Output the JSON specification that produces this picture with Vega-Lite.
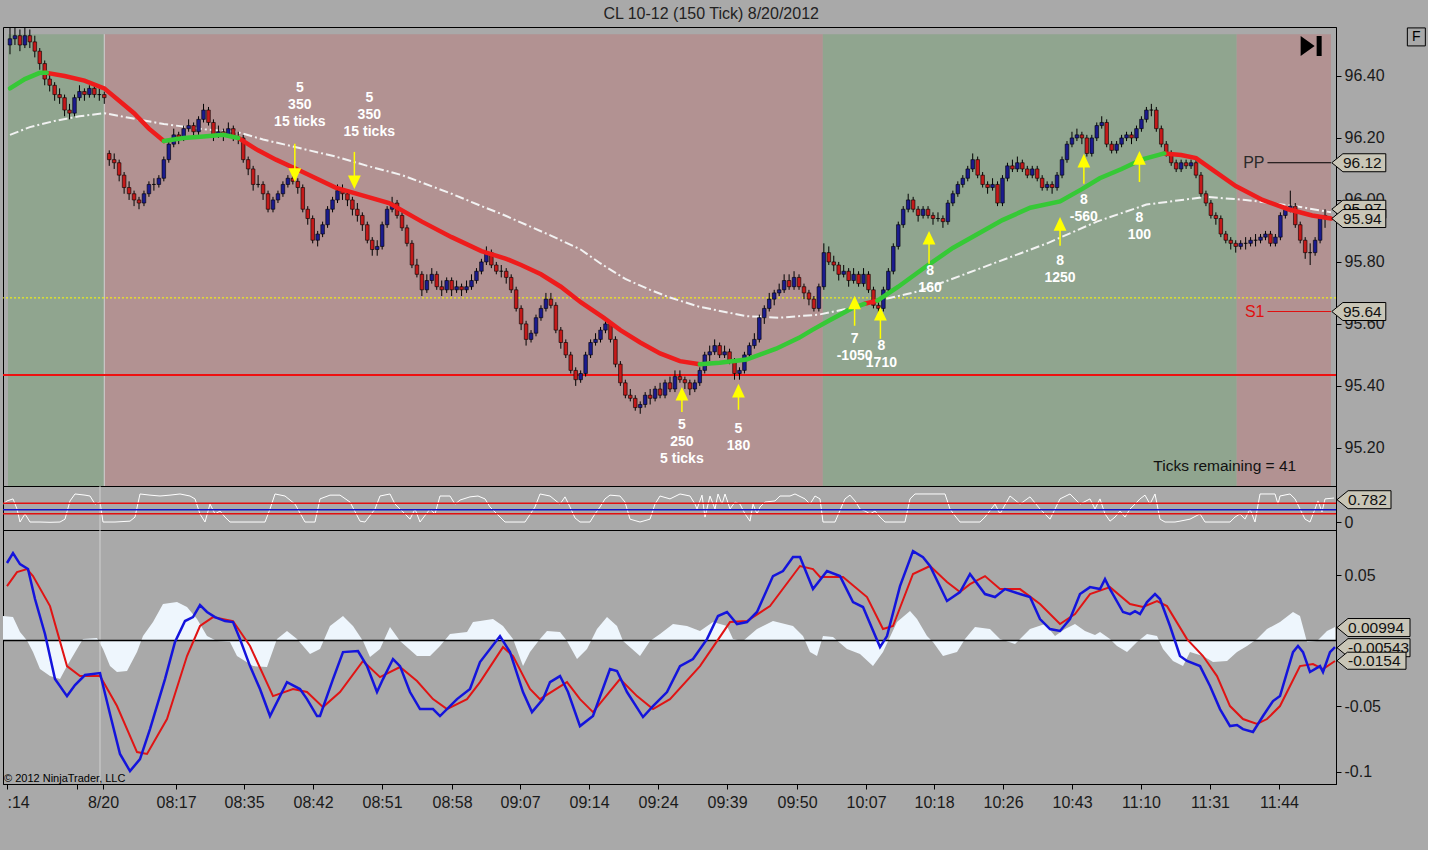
{
  "$schema": "https://vega.github.io/schema/vega-lite/v6.json",
  "background": "#a9a9a9",
  "padding": {"left": 0, "top": 6, "right": 0, "bottom": 62},
  "title": {"text": "CL 10-12 (150 Tick)  8/20/2012", "font": "Liberation Sans", "fontSize": 16, "fontWeight": "normal", "color": "#222", "anchor": "middle", "offset": 3, "dx": -3},
  "spacing": 0,
  "bounds": "flush",
  "config": {
    "view": {"stroke": "#000", "strokeWidth": 1},
    "axis": {"labelFont": "Liberation Sans", "labelFontSize": 16, "labelColor": "#1a1a1a", "domainColor": "#000", "tickColor": "#000", "tickSize": 5, "labelPadding": 3, "grid": false},
    "text": {"font": "Liberation Sans"}
  },
  "datasets": {
    "regions": [
      {"a": 3, "b": 100, "s": "long"},
      {"a": 100, "b": 824, "s": "short"},
      {"a": 824, "b": 1241, "s": "long"},
      {"a": 1241, "b": 1336, "s": "short"}
    ],
    "session": [{"t": 100}],
    "levels": [{"k": "support", "p": 95.435}, {"k": "zone", "p": 95.684}],
    "bars": [
      {"t":5,"o":96.50,"h":96.56,"l":96.47,"c":96.52},{"t":10,"o":96.52,"h":96.56,"l":96.50,"c":96.53},{"t":15,"o":96.53,"h":96.55,"l":96.48,"c":96.50},{"t":20,"o":96.50,"h":96.56,"l":96.49,"c":96.53},{"t":25,"o":96.53,"h":96.55,"l":96.49,"c":96.51},
      {"t":30,"o":96.51,"h":96.53,"l":96.46,"c":96.48},{"t":35,"o":96.48,"h":96.49,"l":96.42,"c":96.44},{"t":40,"o":96.44,"h":96.45,"l":96.37,"c":96.39},{"t":45,"o":96.39,"h":96.41,"l":96.35,"c":96.37},{"t":50,"o":96.37,"h":96.38,"l":96.32,"c":96.34},
      {"t":55,"o":96.34,"h":96.36,"l":96.31,"c":96.33},{"t":60,"o":96.33,"h":96.34,"l":96.27,"c":96.29},{"t":65,"o":96.29,"h":96.31,"l":96.26,"c":96.28},{"t":70,"o":96.28,"h":96.34,"l":96.27,"c":96.33},{"t":75,"o":96.33,"h":96.37,"l":96.32,"c":96.35},
      {"t":80,"o":96.35,"h":96.36,"l":96.32,"c":96.34},{"t":85,"o":96.34,"h":96.37,"l":96.33,"c":96.36},{"t":90,"o":96.36,"h":96.37,"l":96.33,"c":96.34},{"t":95,"o":96.34,"h":96.36,"l":96.32,"c":96.34},{"t":100,"o":96.34,"h":96.35,"l":96.31,"c":96.33},
      {"t":105,"o":96.15,"h":96.16,"l":96.11,"c":96.13},{"t":110,"o":96.13,"h":96.15,"l":96.10,"c":96.12},{"t":115,"o":96.12,"h":96.13,"l":96.06,"c":96.08},{"t":120,"o":96.08,"h":96.09,"l":96.02,"c":96.04},{"t":125,"o":96.04,"h":96.06,"l":96.00,"c":96.02},
      {"t":130,"o":96.02,"h":96.03,"l":95.98,"c":96.00},{"t":135,"o":96.00,"h":96.01,"l":95.97,"c":95.99},{"t":140,"o":95.99,"h":96.03,"l":95.98,"c":96.02},{"t":145,"o":96.02,"h":96.06,"l":96.01,"c":96.05},{"t":150,"o":96.05,"h":96.07,"l":96.03,"c":96.05},
      {"t":155,"o":96.05,"h":96.08,"l":96.04,"c":96.07},{"t":160,"o":96.07,"h":96.14,"l":96.06,"c":96.13},{"t":165,"o":96.13,"h":96.19,"l":96.12,"c":96.18},{"t":170,"o":96.18,"h":96.23,"l":96.17,"c":96.21},{"t":175,"o":96.21,"h":96.22,"l":96.18,"c":96.20},
      {"t":180,"o":96.20,"h":96.24,"l":96.19,"c":96.23},{"t":185,"o":96.23,"h":96.26,"l":96.22,"c":96.24},{"t":190,"o":96.24,"h":96.25,"l":96.20,"c":96.22},{"t":195,"o":96.22,"h":96.27,"l":96.21,"c":96.26},{"t":200,"o":96.26,"h":96.31,"l":96.25,"c":96.29},
      {"t":205,"o":96.29,"h":96.30,"l":96.24,"c":96.25},{"t":210,"o":96.25,"h":96.26,"l":96.19,"c":96.21},{"t":215,"o":96.21,"h":96.24,"l":96.20,"c":96.22},{"t":220,"o":96.22,"h":96.23,"l":96.19,"c":96.21},{"t":225,"o":96.21,"h":96.25,"l":96.20,"c":96.23},
      {"t":230,"o":96.23,"h":96.24,"l":96.19,"c":96.20},{"t":235,"o":96.20,"h":96.22,"l":96.18,"c":96.20},{"t":240,"o":96.20,"h":96.21,"l":96.12,"c":96.13},{"t":245,"o":96.13,"h":96.14,"l":96.08,"c":96.10},{"t":250,"o":96.10,"h":96.11,"l":96.03,"c":96.05},
      {"t":255,"o":96.05,"h":96.08,"l":96.04,"c":96.05},{"t":260,"o":96.05,"h":96.06,"l":96.00,"c":96.02},{"t":265,"o":96.02,"h":96.03,"l":95.96,"c":95.97},{"t":270,"o":95.97,"h":96.01,"l":95.96,"c":96.00},{"t":275,"o":96.00,"h":96.03,"l":95.99,"c":96.02},
      {"t":280,"o":96.02,"h":96.06,"l":96.01,"c":96.05},{"t":285,"o":96.05,"h":96.08,"l":96.04,"c":96.07},{"t":290,"o":96.07,"h":96.09,"l":96.05,"c":96.06},{"t":295,"o":96.06,"h":96.07,"l":96.02,"c":96.04},{"t":300,"o":96.04,"h":96.05,"l":95.96,"c":95.97},
      {"t":305,"o":95.97,"h":95.98,"l":95.92,"c":95.94},{"t":310,"o":95.94,"h":95.95,"l":95.86,"c":95.87},{"t":315,"o":95.87,"h":95.90,"l":95.85,"c":95.89},{"t":320,"o":95.89,"h":95.93,"l":95.88,"c":95.92},{"t":325,"o":95.92,"h":95.98,"l":95.91,"c":95.97},
      {"t":330,"o":95.97,"h":96.01,"l":95.96,"c":96.00},{"t":335,"o":96.00,"h":96.05,"l":95.99,"c":96.03},{"t":340,"o":96.03,"h":96.05,"l":96.00,"c":96.02},{"t":345,"o":96.02,"h":96.03,"l":95.98,"c":96.00},{"t":350,"o":96.00,"h":96.01,"l":95.95,"c":95.97},
      {"t":355,"o":95.97,"h":95.99,"l":95.93,"c":95.95},{"t":360,"o":95.95,"h":95.96,"l":95.90,"c":95.92},{"t":365,"o":95.92,"h":95.93,"l":95.86,"c":95.87},{"t":370,"o":95.87,"h":95.88,"l":95.82,"c":95.84},{"t":375,"o":95.84,"h":95.87,"l":95.82,"c":95.85},
      {"t":380,"o":95.85,"h":95.93,"l":95.84,"c":95.92},{"t":385,"o":95.92,"h":95.98,"l":95.91,"c":95.97},{"t":390,"o":95.97,"h":96.01,"l":95.96,"c":95.99},{"t":395,"o":95.99,"h":96.00,"l":95.94,"c":95.95},{"t":400,"o":95.95,"h":95.96,"l":95.90,"c":95.91},
      {"t":405,"o":95.91,"h":95.92,"l":95.85,"c":95.86},{"t":410,"o":95.86,"h":95.87,"l":95.78,"c":95.79},{"t":415,"o":95.79,"h":95.81,"l":95.75,"c":95.76},{"t":420,"o":95.76,"h":95.77,"l":95.69,"c":95.71},{"t":425,"o":95.71,"h":95.76,"l":95.70,"c":95.74},
      {"t":430,"o":95.74,"h":95.78,"l":95.73,"c":95.76},{"t":435,"o":95.76,"h":95.77,"l":95.71,"c":95.72},{"t":440,"o":95.72,"h":95.74,"l":95.69,"c":95.71},{"t":445,"o":95.71,"h":95.75,"l":95.70,"c":95.74},{"t":450,"o":95.74,"h":95.75,"l":95.69,"c":95.71},
      {"t":455,"o":95.71,"h":95.74,"l":95.70,"c":95.72},{"t":460,"o":95.72,"h":95.73,"l":95.69,"c":95.71},{"t":465,"o":95.71,"h":95.74,"l":95.70,"c":95.72},{"t":470,"o":95.72,"h":95.76,"l":95.71,"c":95.74},{"t":475,"o":95.74,"h":95.78,"l":95.73,"c":95.77},
      {"t":480,"o":95.77,"h":95.81,"l":95.76,"c":95.80},{"t":485,"o":95.80,"h":95.85,"l":95.79,"c":95.83},{"t":490,"o":95.83,"h":95.84,"l":95.78,"c":95.79},{"t":495,"o":95.79,"h":95.80,"l":95.76,"c":95.77},{"t":500,"o":95.77,"h":95.79,"l":95.75,"c":95.77},
      {"t":505,"o":95.77,"h":95.78,"l":95.73,"c":95.75},{"t":510,"o":95.75,"h":95.76,"l":95.70,"c":95.71},{"t":515,"o":95.71,"h":95.72,"l":95.64,"c":95.65},{"t":520,"o":95.65,"h":95.66,"l":95.58,"c":95.60},{"t":525,"o":95.60,"h":95.61,"l":95.53,"c":95.55},
      {"t":530,"o":95.55,"h":95.58,"l":95.54,"c":95.57},{"t":535,"o":95.57,"h":95.63,"l":95.56,"c":95.62},{"t":540,"o":95.62,"h":95.66,"l":95.61,"c":95.65},{"t":545,"o":95.65,"h":95.70,"l":95.64,"c":95.68},{"t":550,"o":95.68,"h":95.70,"l":95.65,"c":95.66},
      {"t":555,"o":95.66,"h":95.67,"l":95.57,"c":95.58},{"t":560,"o":95.58,"h":95.59,"l":95.52,"c":95.54},{"t":565,"o":95.54,"h":95.55,"l":95.49,"c":95.50},{"t":570,"o":95.50,"h":95.51,"l":95.44,"c":95.45},{"t":575,"o":95.45,"h":95.46,"l":95.40,"c":95.42},
      {"t":580,"o":95.42,"h":95.45,"l":95.41,"c":95.44},{"t":585,"o":95.44,"h":95.51,"l":95.43,"c":95.50},{"t":590,"o":95.50,"h":95.55,"l":95.49,"c":95.54},{"t":595,"o":95.54,"h":95.57,"l":95.53,"c":95.55},{"t":600,"o":95.55,"h":95.59,"l":95.54,"c":95.58},
      {"t":605,"o":95.58,"h":95.62,"l":95.57,"c":95.60},{"t":610,"o":95.60,"h":95.61,"l":95.54,"c":95.55},{"t":615,"o":95.55,"h":95.56,"l":95.46,"c":95.47},{"t":620,"o":95.47,"h":95.48,"l":95.40,"c":95.41},{"t":625,"o":95.41,"h":95.42,"l":95.36,"c":95.37},
      {"t":630,"o":95.37,"h":95.39,"l":95.35,"c":95.36},{"t":635,"o":95.36,"h":95.37,"l":95.32,"c":95.33},{"t":640,"o":95.33,"h":95.35,"l":95.31,"c":95.34},{"t":645,"o":95.34,"h":95.38,"l":95.33,"c":95.37},{"t":650,"o":95.37,"h":95.39,"l":95.34,"c":95.36},
      {"t":655,"o":95.36,"h":95.40,"l":95.35,"c":95.39},{"t":660,"o":95.39,"h":95.41,"l":95.36,"c":95.37},{"t":665,"o":95.37,"h":95.42,"l":95.36,"c":95.41},{"t":670,"o":95.41,"h":95.43,"l":95.38,"c":95.39},{"t":675,"o":95.39,"h":95.45,"l":95.38,"c":95.43},
      {"t":680,"o":95.43,"h":95.45,"l":95.41,"c":95.42},{"t":685,"o":95.42,"h":95.43,"l":95.39,"c":95.41},{"t":690,"o":95.41,"h":95.42,"l":95.37,"c":95.39},{"t":695,"o":95.39,"h":95.42,"l":95.38,"c":95.41},{"t":700,"o":95.41,"h":95.46,"l":95.40,"c":95.45},
      {"t":705,"o":95.45,"h":95.51,"l":95.44,"c":95.50},{"t":710,"o":95.50,"h":95.53,"l":95.48,"c":95.51},{"t":715,"o":95.51,"h":95.55,"l":95.50,"c":95.53},{"t":720,"o":95.53,"h":95.54,"l":95.49,"c":95.50},{"t":725,"o":95.50,"h":95.53,"l":95.49,"c":95.51},
      {"t":730,"o":95.51,"h":95.52,"l":95.47,"c":95.48},{"t":735,"o":95.48,"h":95.49,"l":95.42,"c":95.44},{"t":740,"o":95.44,"h":95.46,"l":95.42,"c":95.45},{"t":745,"o":95.45,"h":95.51,"l":95.44,"c":95.50},{"t":750,"o":95.50,"h":95.54,"l":95.49,"c":95.53},
      {"t":755,"o":95.53,"h":95.57,"l":95.52,"c":95.55},{"t":760,"o":95.55,"h":95.63,"l":95.54,"c":95.62},{"t":765,"o":95.62,"h":95.66,"l":95.60,"c":95.65},{"t":770,"o":95.65,"h":95.70,"l":95.64,"c":95.68},{"t":775,"o":95.68,"h":95.71,"l":95.66,"c":95.70},
      {"t":780,"o":95.70,"h":95.73,"l":95.69,"c":95.71},{"t":785,"o":95.71,"h":95.76,"l":95.70,"c":95.74},{"t":790,"o":95.74,"h":95.76,"l":95.71,"c":95.72},{"t":795,"o":95.72,"h":95.77,"l":95.71,"c":95.75},{"t":800,"o":95.75,"h":95.76,"l":95.71,"c":95.72},
      {"t":805,"o":95.72,"h":95.73,"l":95.68,"c":95.70},{"t":810,"o":95.70,"h":95.71,"l":95.66,"c":95.68},{"t":815,"o":95.68,"h":95.69,"l":95.64,"c":95.65},{"t":820,"o":95.65,"h":95.73,"l":95.64,"c":95.72},{"t":825,"o":95.72,"h":95.86,"l":95.71,"c":95.83},
      {"t":830,"o":95.83,"h":95.85,"l":95.79,"c":95.80},{"t":835,"o":95.80,"h":95.82,"l":95.77,"c":95.79},{"t":840,"o":95.79,"h":95.80,"l":95.74,"c":95.76},{"t":845,"o":95.76,"h":95.79,"l":95.75,"c":95.77},{"t":850,"o":95.77,"h":95.78,"l":95.72,"c":95.74},
      {"t":855,"o":95.74,"h":95.78,"l":95.73,"c":95.76},{"t":860,"o":95.76,"h":95.77,"l":95.72,"c":95.73},{"t":865,"o":95.73,"h":95.78,"l":95.72,"c":95.76},{"t":870,"o":95.76,"h":95.77,"l":95.70,"c":95.71},{"t":875,"o":95.71,"h":95.72,"l":95.65,"c":95.66},
      {"t":880,"o":95.66,"h":95.68,"l":95.63,"c":95.65},{"t":885,"o":95.65,"h":95.72,"l":95.64,"c":95.71},{"t":890,"o":95.71,"h":95.78,"l":95.70,"c":95.77},{"t":895,"o":95.77,"h":95.86,"l":95.76,"c":95.85},{"t":900,"o":95.85,"h":95.93,"l":95.84,"c":95.92},
      {"t":905,"o":95.92,"h":95.98,"l":95.91,"c":95.97},{"t":910,"o":95.97,"h":96.02,"l":95.96,"c":96.00},{"t":915,"o":96.00,"h":96.01,"l":95.96,"c":95.97},{"t":920,"o":95.97,"h":95.98,"l":95.93,"c":95.95},{"t":925,"o":95.95,"h":95.98,"l":95.94,"c":95.97},
      {"t":930,"o":95.97,"h":95.98,"l":95.94,"c":95.95},{"t":935,"o":95.95,"h":95.96,"l":95.92,"c":95.94},{"t":940,"o":95.94,"h":95.96,"l":95.93,"c":95.94},{"t":945,"o":95.94,"h":95.95,"l":95.91,"c":95.93},{"t":950,"o":95.93,"h":96.00,"l":95.92,"c":95.99},
      {"t":955,"o":95.99,"h":96.03,"l":95.98,"c":96.02},{"t":960,"o":96.02,"h":96.06,"l":96.01,"c":96.05},{"t":965,"o":96.05,"h":96.08,"l":96.04,"c":96.07},{"t":970,"o":96.07,"h":96.11,"l":96.06,"c":96.10},{"t":975,"o":96.10,"h":96.15,"l":96.09,"c":96.13},
      {"t":980,"o":96.13,"h":96.14,"l":96.07,"c":96.08},{"t":985,"o":96.08,"h":96.09,"l":96.04,"c":96.05},{"t":990,"o":96.05,"h":96.06,"l":96.02,"c":96.04},{"t":995,"o":96.04,"h":96.07,"l":96.03,"c":96.05},{"t":1000,"o":96.05,"h":96.06,"l":95.98,"c":95.99},
      {"t":1005,"o":95.99,"h":96.08,"l":95.98,"c":96.07},{"t":1010,"o":96.07,"h":96.12,"l":96.06,"c":96.11},{"t":1015,"o":96.11,"h":96.13,"l":96.09,"c":96.10},{"t":1020,"o":96.10,"h":96.14,"l":96.09,"c":96.12},{"t":1025,"o":96.12,"h":96.13,"l":96.09,"c":96.10},
      {"t":1030,"o":96.10,"h":96.11,"l":96.07,"c":96.08},{"t":1035,"o":96.08,"h":96.11,"l":96.07,"c":96.10},{"t":1040,"o":96.10,"h":96.11,"l":96.06,"c":96.07},{"t":1045,"o":96.07,"h":96.08,"l":96.03,"c":96.04},{"t":1050,"o":96.04,"h":96.06,"l":96.03,"c":96.05},
      {"t":1055,"o":96.05,"h":96.06,"l":96.02,"c":96.04},{"t":1060,"o":96.04,"h":96.09,"l":96.03,"c":96.08},{"t":1065,"o":96.08,"h":96.14,"l":96.07,"c":96.13},{"t":1070,"o":96.13,"h":96.19,"l":96.12,"c":96.18},{"t":1075,"o":96.18,"h":96.22,"l":96.17,"c":96.20},
      {"t":1080,"o":96.20,"h":96.23,"l":96.19,"c":96.21},{"t":1085,"o":96.21,"h":96.22,"l":96.18,"c":96.20},{"t":1090,"o":96.20,"h":96.21,"l":96.14,"c":96.15},{"t":1095,"o":96.15,"h":96.21,"l":96.14,"c":96.20},{"t":1100,"o":96.20,"h":96.25,"l":96.19,"c":96.24},
      {"t":1105,"o":96.24,"h":96.27,"l":96.23,"c":96.25},{"t":1110,"o":96.25,"h":96.26,"l":96.17,"c":96.18},{"t":1115,"o":96.18,"h":96.19,"l":96.15,"c":96.16},{"t":1120,"o":96.16,"h":96.19,"l":96.15,"c":96.18},{"t":1125,"o":96.18,"h":96.21,"l":96.17,"c":96.20},
      {"t":1130,"o":96.20,"h":96.22,"l":96.19,"c":96.21},{"t":1135,"o":96.21,"h":96.22,"l":96.18,"c":96.20},{"t":1140,"o":96.20,"h":96.24,"l":96.19,"c":96.23},{"t":1145,"o":96.23,"h":96.27,"l":96.22,"c":96.26},{"t":1150,"o":96.26,"h":96.30,"l":96.25,"c":96.29},
      {"t":1155,"o":96.29,"h":96.31,"l":96.27,"c":96.29},{"t":1160,"o":96.29,"h":96.30,"l":96.22,"c":96.23},{"t":1165,"o":96.23,"h":96.24,"l":96.17,"c":96.18},{"t":1170,"o":96.18,"h":96.19,"l":96.14,"c":96.15},{"t":1175,"o":96.15,"h":96.16,"l":96.11,"c":96.12},
      {"t":1180,"o":96.12,"h":96.13,"l":96.09,"c":96.10},{"t":1185,"o":96.10,"h":96.13,"l":96.09,"c":96.12},{"t":1190,"o":96.12,"h":96.13,"l":96.10,"c":96.11},{"t":1195,"o":96.11,"h":96.13,"l":96.10,"c":96.12},{"t":1200,"o":96.12,"h":96.13,"l":96.07,"c":96.08},
      {"t":1205,"o":96.08,"h":96.09,"l":96.01,"c":96.02},{"t":1210,"o":96.02,"h":96.03,"l":95.98,"c":95.99},{"t":1215,"o":95.99,"h":96.00,"l":95.94,"c":95.95},{"t":1220,"o":95.95,"h":95.96,"l":95.92,"c":95.94},{"t":1225,"o":95.94,"h":95.95,"l":95.88,"c":95.89},
      {"t":1230,"o":95.89,"h":95.90,"l":95.86,"c":95.87},{"t":1235,"o":95.87,"h":95.88,"l":95.84,"c":95.86},{"t":1240,"o":95.86,"h":95.87,"l":95.83,"c":95.85},{"t":1245,"o":95.85,"h":95.87,"l":95.84,"c":95.86},{"t":1250,"o":95.86,"h":95.88,"l":95.84,"c":95.86},
      {"t":1255,"o":95.86,"h":95.88,"l":95.85,"c":95.87},{"t":1260,"o":95.87,"h":95.89,"l":95.85,"c":95.87},{"t":1265,"o":95.87,"h":95.89,"l":95.86,"c":95.88},{"t":1270,"o":95.88,"h":95.90,"l":95.87,"c":95.89},{"t":1275,"o":95.89,"h":95.90,"l":95.85,"c":95.86},
      {"t":1280,"o":95.86,"h":95.89,"l":95.85,"c":95.88},{"t":1285,"o":95.88,"h":95.96,"l":95.87,"c":95.95},{"t":1290,"o":95.95,"h":95.98,"l":95.94,"c":95.97},{"t":1295,"o":95.97,"h":96.03,"l":95.96,"c":95.98},{"t":1300,"o":95.98,"h":95.99,"l":95.91,"c":95.92},
      {"t":1305,"o":95.92,"h":95.93,"l":95.86,"c":95.87},{"t":1310,"o":95.87,"h":95.88,"l":95.81,"c":95.83},{"t":1315,"o":95.83,"h":95.86,"l":95.79,"c":95.83},{"t":1320,"o":95.83,"h":95.88,"l":95.82,"c":95.87},{"t":1325,"o":95.87,"h":95.95,"l":95.86,"c":95.94},
      {"t":1330,"o":95.94,"h":95.97,"l":95.91,"c":95.95}
    ],
    "slowma": [
      {"t":5,"v":96.21},{"t":25,"v":96.235},{"t":50,"v":96.255},{"t":75,"v":96.27},{"t":100,"v":96.28},{"t":125,"v":96.265},{"t":160,"v":96.245},{"t":200,"v":96.228},{"t":233,"v":96.22},{"t":260,"v":96.195},{"t":300,"v":96.165},{"t":333,"v":96.14},{"t":365,"v":96.11},{"t":400,"v":96.08},{"t":450,"v":96.02},{"t":480,"v":95.98},{"t":500,"v":95.955},{"t":525,"v":95.92},{"t":550,"v":95.885},{"t":580,"v":95.84},{"t":600,"v":95.795},{"t":625,"v":95.745},{"t":650,"v":95.71},{"t":670,"v":95.685},{"t":700,"v":95.655},{"t":747,"v":95.625},{"t":780,"v":95.62},{"t":820,"v":95.63},{"t":850,"v":95.65},{"t":880,"v":95.675},{"t":920,"v":95.705},{"t":950,"v":95.74},{"t":1000,"v":95.80},{"t":1050,"v":95.86},{"t":1100,"v":95.93},{"t":1150,"v":95.985},{"t":1210,"v":96.01},{"t":1250,"v":96.0},{"t":1300,"v":95.98},{"t":1336,"v":95.96}
    ],
    "maRed": [
      {"t":42,"v":96.41,"s":"r1"},{"t":60,"v":96.40,"s":"r1"},{"t":80,"v":96.385,"s":"r1"},{"t":100,"v":96.36,"s":"r1"},{"t":115,"v":96.32,"s":"r1"},{"t":130,"v":96.28,"s":"r1"},{"t":145,"v":96.23,"s":"r1"},{"t":160,"v":96.19,"s":"r1"},
      {"t":235,"v":96.20,"s":"r2"},{"t":255,"v":96.16,"s":"r2"},{"t":273,"v":96.13,"s":"r2"},{"t":300,"v":96.09,"s":"r2"},{"t":333,"v":96.04,"s":"r2"},{"t":360,"v":96.015,"s":"r2"},{"t":387,"v":95.99,"s":"r2"},{"t":420,"v":95.93,"s":"r2"},{"t":450,"v":95.88,"s":"r2"},{"t":480,"v":95.835,"s":"r2"},{"t":505,"v":95.81,"s":"r2"},{"t":520,"v":95.79,"s":"r2"},{"t":540,"v":95.76,"s":"r2"},{"t":560,"v":95.72,"s":"r2"},{"t":580,"v":95.67,"s":"r2"},{"t":603,"v":95.62,"s":"r2"},{"t":620,"v":95.58,"s":"r2"},{"t":640,"v":95.54,"s":"r2"},{"t":660,"v":95.505,"s":"r2"},{"t":680,"v":95.48,"s":"r2"},{"t":700,"v":95.47,"s":"r2"},
      {"t":866,"v":95.665,"s":"r3"},{"t":879,"v":95.675,"s":"r3"},
      {"t":1168,"v":96.15,"s":"r4"},{"t":1185,"v":96.145,"s":"r4"},{"t":1200,"v":96.135,"s":"r4"},{"t":1220,"v":96.09,"s":"r4"},{"t":1240,"v":96.045,"s":"r4"},{"t":1267,"v":96.0,"s":"r4"},{"t":1293,"v":95.97,"s":"r4"},{"t":1317,"v":95.95,"s":"r4"},{"t":1336,"v":95.94,"s":"r4"}
    ],
    "maGreen": [
      {"t":5,"v":96.36,"s":"g1"},{"t":20,"v":96.39,"s":"g1"},{"t":35,"v":96.41,"s":"g1"},{"t":42,"v":96.41,"s":"g1"},
      {"t":160,"v":96.19,"s":"g2"},{"t":180,"v":96.20,"s":"g2"},{"t":200,"v":96.205,"s":"g2"},{"t":220,"v":96.21,"s":"g2"},{"t":235,"v":96.20,"s":"g2"},
      {"t":700,"v":95.47,"s":"g3"},{"t":720,"v":95.475,"s":"g3"},{"t":747,"v":95.485,"s":"g3"},{"t":777,"v":95.52,"s":"g3"},{"t":800,"v":95.555,"s":"g3"},{"t":813,"v":95.58,"s":"g3"},{"t":830,"v":95.61,"s":"g3"},{"t":853,"v":95.65,"s":"g3"},{"t":866,"v":95.665,"s":"g3"},
      {"t":879,"v":95.675,"s":"g4"},{"t":900,"v":95.72,"s":"g4"},{"t":930,"v":95.79,"s":"g4"},{"t":955,"v":95.845,"s":"g4"},{"t":980,"v":95.89,"s":"g4"},{"t":1005,"v":95.935,"s":"g4"},{"t":1033,"v":95.975,"s":"g4"},{"t":1063,"v":95.995,"s":"g4"},{"t":1085,"v":96.035,"s":"g4"},{"t":1103,"v":96.07,"s":"g4"},{"t":1125,"v":96.10,"s":"g4"},{"t":1145,"v":96.13,"s":"g4"},{"t":1168,"v":96.15,"s":"g4"}
    ],
    "pivots": [
      {"lab": "PP", "p": 96.12, "t1": 1272, "t2": 1336},
      {"lab": "S1", "p": 95.64, "t1": 1272, "t2": 1336}
    ],
    "arrows": [
      {"t":292,"tail":96.181,"tip":96.07,"head":96.084,"dir":"down"},
      {"t":352,"tail":96.155,"tip":96.047,"head":96.061,"dir":"down"},
      {"t":682,"tail":95.316,"tip":95.385,"head":95.371,"dir":"up"},
      {"t":739,"tail":95.323,"tip":95.394,"head":95.381,"dir":"up"},
      {"t":856,"tail":95.594,"tip":95.678,"head":95.665,"dir":"up"},
      {"t":882,"tail":95.552,"tip":95.643,"head":95.629,"dir":"up"},
      {"t":931,"tail":95.794,"tip":95.888,"head":95.874,"dir":"up"},
      {"t":1063,"tail":95.852,"tip":95.933,"head":95.919,"dir":"up"},
      {"t":1087,"tail":96.052,"tip":96.136,"head":96.123,"dir":"up"},
      {"t":1143,"tail":96.058,"tip":96.146,"head":96.132,"dir":"up"}
    ],
    "notes": [
      {"t":297,"p":96.384,"txt":"5\n350\n15 ticks"},
      {"t":367,"p":96.352,"txt":"5\n350\n15 ticks"},
      {"t":682,"p":95.297,"txt":"5\n250\n5 ticks"},
      {"t":739,"p":95.284,"txt":"5\n180"},
      {"t":856,"p":95.574,"txt":"7\n-1050"},
      {"t":883,"p":95.552,"txt":"8\n1710"},
      {"t":932,"p":95.794,"txt":"8\n160"},
      {"t":1063,"p":95.826,"txt":"8\n1250"},
      {"t":1087,"p":96.023,"txt":"8\n-560"},
      {"t":1143,"p":95.965,"txt":"8\n100"}
    ],
    "misc": [{"t": 1157, "p": 95.142, "txt": "Ticks remaining = 41"}],
    "icons": [{"kind": "end", "t": 1316, "p": 96.497}, {"kind": "F", "t": 1422, "p": 96.526}],
    "priceTags": [
      {"p": 96.12, "lab": "96.12", "order": 1},
      {"p": 95.97, "lab": "95.97", "order": 1},
      {"p": 95.64, "lab": "95.64", "order": 1},
      {"p": 95.94, "lab": "95.94", "order": 2}
    ],
    "osc": [
      {"t":3,"v":0.63},{"t":7,"v":0.74},{"t":13,"v":0.81},{"t":17,"v":0.46},{"t":20,"v":0.01},{"t":25,"v":0.29},{"t":30,"v":0.01},{"t":40,"v":0.01},{"t":50,"v":0},{"t":60,"v":0.01},{"t":65,"v":0.11},{"t":70,"v":0.74},{"t":75,"v":0.98},{"t":85,"v":0.94},{"t":90,"v":0.91},{"t":95,"v":0.63},{"t":100,"v":0.70},{"t":103,"v":0.01},{"t":115,"v":0.01},{"t":130,"v":0.04},{"t":135,"v":0.18},{"t":140,"v":0.98},{"t":150,"v":0.94},{"t":160,"v":0.91},{"t":170,"v":0.94},{"t":180,"v":0.98},{"t":190,"v":0.91},{"t":195,"v":0.81},{"t":200,"v":0.29},{"t":205,"v":0.01},{"t":210,"v":0.63},{"t":215,"v":0.29},{"t":220,"v":0.39},{"t":225,"v":0.18},{"t":230,"v":0.01},{"t":245,"v":0.01},{"t":265,"v":0.01},{"t":270,"v":0.46},{"t":275,"v":0.98},{"t":285,"v":0.91},{"t":295,"v":0.63},{"t":305,"v":0.01},{"t":315,"v":0.01},{"t":320,"v":0.81},{"t":330,"v":0.94},{"t":340,"v":0.94},{"t":350,"v":0.70},{"t":360,"v":0.04},{"t":365,"v":0.01},{"t":375,"v":0.46},{"t":380,"v":0.91},{"t":390,"v":0.98},{"t":395,"v":0.63},{"t":405,"v":0.29},{"t":410,"v":0.11},{"t":415,"v":0.46},{"t":420,"v":0.01},{"t":430,"v":0.46},{"t":435,"v":0.29},{"t":440,"v":0.91},{"t":450,"v":0.91},{"t":455,"v":0.63},{"t":460,"v":0.77},{"t":470,"v":0.88},{"t":478,"v":0.91},{"t":485,"v":0.81},{"t":490,"v":0.53},{"t":505,"v":0.01},{"t":525,"v":0.01},{"t":535,"v":0.53},{"t":540,"v":0.98},{"t":550,"v":0.91},{"t":560,"v":0.63},{"t":565,"v":0.88},{"t":570,"v":0.53},{"t":575,"v":0.15},{"t":580,"v":0.01},{"t":590,"v":0.01},{"t":595,"v":0.29},{"t":600,"v":0.53},{"t":605,"v":0.81},{"t":610,"v":0.94},{"t":620,"v":0.91},{"t":625,"v":0.70},{"t":630,"v":0.11},{"t":640,"v":0.01},{"t":650,"v":0.11},{"t":655,"v":0.63},{"t":660,"v":0.91},{"t":670,"v":0.81},{"t":680,"v":0.98},{"t":690,"v":0.91},{"t":695,"v":0.63},{"t":697,"v":0.46},{"t":702,"v":0.94},{"t":705,"v":0.18},{"t":710,"v":0.91},{"t":715,"v":0.46},{"t":718,"v":0.98},{"t":722,"v":0.63},{"t":725,"v":0.98},{"t":730,"v":0.46},{"t":735,"v":0.70},{"t":740,"v":0.63},{"t":745,"v":0.29},{"t":750,"v":0.04},{"t":753,"v":0.63},{"t":757,"v":0.29},{"t":760,"v":0.53},{"t":765,"v":0.70},{"t":775,"v":0.74},{"t":780,"v":0.91},{"t":790,"v":0.91},{"t":795,"v":0.98},{"t":805,"v":0.81},{"t":810,"v":0.63},{"t":815,"v":0.91},{"t":820,"v":0.81},{"t":823,"v":0.01},{"t":835,"v":0.01},{"t":845,"v":0.81},{"t":850,"v":0.94},{"t":855,"v":0.74},{"t":860,"v":0.46},{"t":865,"v":0.39},{"t":870,"v":0.29},{"t":875,"v":0.39},{"t":880,"v":0.18},{"t":885,"v":0.01},{"t":905,"v":0.01},{"t":910,"v":0.81},{"t":915,"v":0.98},{"t":945,"v":0.98},{"t":950,"v":0.46},{"t":955,"v":0.22},{"t":960,"v":0.01},{"t":980,"v":0.01},{"t":985,"v":0.18},{"t":995,"v":0.63},{"t":1000,"v":0.29},{"t":1010,"v":0.91},{"t":1020,"v":0.63},{"t":1030,"v":0.88},{"t":1040,"v":0.46},{"t":1050,"v":0.11},{"t":1060,"v":0.81},{"t":1070,"v":0.98},{"t":1080,"v":0.63},{"t":1090,"v":0.81},{"t":1095,"v":0.46},{"t":1100,"v":0.81},{"t":1105,"v":0.29},{"t":1110,"v":0.04},{"t":1115,"v":0.18},{"t":1120,"v":0.39},{"t":1125,"v":0.18},{"t":1130,"v":0.46},{"t":1135,"v":0.63},{"t":1140,"v":0.81},{"t":1145,"v":0.94},{"t":1150,"v":0.63},{"t":1155,"v":0.98},{"t":1160,"v":0.11},{"t":1165,"v":0.01},{"t":1175,"v":0.01},{"t":1180,"v":0.04},{"t":1190,"v":0.11},{"t":1200,"v":0.29},{"t":1205,"v":0.01},{"t":1230,"v":0.01},{"t":1235,"v":0.18},{"t":1240,"v":0.29},{"t":1245,"v":0.11},{"t":1250,"v":0.46},{"t":1255,"v":0.01},{"t":1260,"v":0.98},{"t":1275,"v":0.98},{"t":1278,"v":0.63},{"t":1280,"v":0.91},{"t":1290,"v":0.98},{"t":1295,"v":0.81},{"t":1305,"v":0.11},{"t":1310,"v":0.01},{"t":1315,"v":0.46},{"t":1318,"v":0.74},{"t":1322,"v":0.36},{"t":1325,"v":0.81},{"t":1334,"v":0.84}
    ],
    "oscLevels": [{"k": "red", "v": 0.657}, {"k": "red", "v": 0.30}, {"k": "blue", "v": 0.436}],
    "oscTag": [{"v": 0.782, "lab": "0.782"}],
    "hist": [
      {"t":3,"v":0.0187},{"t":13,"v":0.0179},{"t":20,"v":0.0065},{"t":27,"v":0},{"t":33,"v":-0.0088},{"t":40,"v":-0.0218},{"t":50,"v":-0.0271},{"t":60,"v":-0.0294},{"t":67,"v":-0.0195},{"t":77,"v":-0.0065},{"t":83,"v":0.0011},{"t":97,"v":0.0019},{"t":103,"v":-0.0065},{"t":110,"v":-0.0195},{"t":117,"v":-0.024},{"t":127,"v":-0.0233},{"t":137,"v":-0.0088},{"t":143,"v":0.0034},{"t":153,"v":0.0141},{"t":163,"v":0.0279},{"t":177,"v":0.0294},{"t":187,"v":0.0256},{"t":197,"v":0.0164},{"t":207,"v":0.0034},{"t":217,"v":-0.0004},{"t":230,"v":-0.0011},{"t":237,"v":-0.0118},{"t":253,"v":-0.0195},{"t":267,"v":-0.0202},{"t":277,"v":0.0011},{"t":287,"v":0.0073},{"t":297,"v":0.0011},{"t":310,"v":-0.0103},{"t":320,"v":-0.0065},{"t":330,"v":0.0111},{"t":343,"v":0.0187},{"t":353,"v":0.0111},{"t":363,"v":-0.0004},{"t":370,"v":-0.0126},{"t":380,"v":-0.0065},{"t":390,"v":0.0103},{"t":400,"v":-0.0004},{"t":417,"v":-0.0118},{"t":430,"v":-0.0118},{"t":440,"v":-0.0042},{"t":450,"v":0.005},{"t":467,"v":0.0065},{"t":473,"v":0.0141},{"t":480,"v":0.0149},{"t":493,"v":0.0164},{"t":503,"v":0.0111},{"t":513,"v":0.0011},{"t":523,"v":-0.0195},{"t":530,"v":-0.0088},{"t":540,"v":0.0011},{"t":547,"v":0.0073},{"t":560,"v":0.0065},{"t":567,"v":-0.0004},{"t":577,"v":-0.0141},{"t":587,"v":-0.0065},{"t":597,"v":0.0088},{"t":607,"v":0.0179},{"t":617,"v":0.0111},{"t":623,"v":-0.0004},{"t":640,"v":-0.0118},{"t":650,"v":-0.0004},{"t":660,"v":0.005},{"t":673,"v":0.0126},{"t":687,"v":0.0111},{"t":700,"v":0.0073},{"t":713,"v":0.0141},{"t":727,"v":0.0111},{"t":733,"v":0.0011},{"t":743,"v":-0.0004},{"t":757,"v":0.0088},{"t":773,"v":0.0149},{"t":793,"v":0.0111},{"t":803,"v":0.0034},{"t":810,"v":-0.0088},{"t":817,"v":-0.0118},{"t":823,"v":0.0034},{"t":833,"v":0.0027},{"t":847,"v":-0.0065},{"t":860,"v":-0.0103},{"t":873,"v":-0.0195},{"t":883,"v":-0.0088},{"t":897,"v":0.0141},{"t":910,"v":0.0225},{"t":917,"v":0.0164},{"t":927,"v":0.0034},{"t":933,"v":-0.0011},{"t":943,"v":-0.0118},{"t":957,"v":-0.0088},{"t":965,"v":0.0011},{"t":975,"v":0.0103},{"t":990,"v":0.0088},{"t":1000,"v":0.0011},{"t":1015,"v":-0.0027},{"t":1030,"v":0.0088},{"t":1045,"v":0.0126},{"t":1055,"v":0.0034},{"t":1065,"v":0.0088},{"t":1075,"v":0.0126},{"t":1085,"v":0.0073},{"t":1095,"v":0.0042},{"t":1100,"v":0.0065},{"t":1110,"v":0.0011},{"t":1117,"v":-0.0042},{"t":1127,"v":-0.0088},{"t":1137,"v":-0.0011},{"t":1147,"v":0.005},{"t":1157,"v":0.0034},{"t":1163,"v":-0.0065},{"t":1173,"v":-0.0156},{"t":1183,"v":-0.0195},{"t":1190,"v":-0.0088},{"t":1203,"v":-0.0118},{"t":1213,"v":-0.0164},{"t":1227,"v":-0.0156},{"t":1237,"v":-0.0088},{"t":1247,"v":-0.0042},{"t":1257,"v":0.0011},{"t":1267,"v":0.0088},{"t":1280,"v":0.0141},{"t":1293,"v":0.0218},{"t":1300,"v":0.0187},{"t":1307,"v":-0.0011},{"t":1317,"v":-0.0004},{"t":1327,"v":0.0073},{"t":1335,"v":0.0103}
    ],
    "macdRed": [
      {"t":7,"v":0.0416},{"t":17,"v":0.0523},{"t":27,"v":0.0546},{"t":33,"v":0.0492},{"t":50,"v":0.0263},{"t":67,"v":-0.0195},{"t":80,"v":-0.0271},{"t":100,"v":-0.0271},{"t":117,"v":-0.05},{"t":137,"v":-0.0851},{"t":147,"v":-0.0866},{"t":167,"v":-0.0599},{"t":187,"v":-0.0118},{"t":200,"v":0.0111},{"t":213,"v":0.0179},{"t":233,"v":0.0149},{"t":250,"v":-0.0042},{"t":273,"v":-0.0424},{"t":293,"v":-0.037},{"t":307,"v":-0.0393},{"t":323,"v":-0.0508},{"t":340,"v":-0.0393},{"t":363,"v":-0.0156},{"t":380,"v":-0.0279},{"t":400,"v":-0.0202},{"t":417,"v":-0.0309},{"t":433,"v":-0.0447},{"t":447,"v":-0.0523},{"t":467,"v":-0.0447},{"t":480,"v":-0.0317},{"t":503,"v":-0.005},{"t":513,"v":-0.0118},{"t":530,"v":-0.037},{"t":540,"v":-0.0447},{"t":567,"v":-0.0317},{"t":580,"v":-0.0447},{"t":593,"v":-0.0546},{"t":620,"v":-0.0294},{"t":637,"v":-0.0424},{"t":653,"v":-0.0523},{"t":670,"v":-0.0447},{"t":700,"v":-0.0195},{"t":730,"v":0.0141},{"t":747,"v":0.0149},{"t":770,"v":0.0263},{"t":800,"v":0.0569},{"t":813,"v":0.0546},{"t":820,"v":0.0485},{"t":843,"v":0.0485},{"t":867,"v":0.0332},{"t":883,"v":0.0088},{"t":893,"v":0.0111},{"t":913,"v":0.0508},{"t":930,"v":0.0569},{"t":947,"v":0.0447},{"t":960,"v":0.037},{"t":970,"v":0.0431},{"t":985,"v":0.0492},{"t":1000,"v":0.0393},{"t":1020,"v":0.0393},{"t":1040,"v":0.0279},{"t":1060,"v":0.0126},{"t":1075,"v":0.0202},{"t":1090,"v":0.0355},{"t":1110,"v":0.0408},{"t":1130,"v":0.0279},{"t":1143,"v":0.0256},{"t":1157,"v":0.0302},{"t":1167,"v":0.0263},{"t":1187,"v":0.0011},{"t":1203,"v":-0.0118},{"t":1217,"v":-0.0271},{"t":1230,"v":-0.05},{"t":1243,"v":-0.0599},{"t":1257,"v":-0.0637},{"t":1267,"v":-0.0599},{"t":1280,"v":-0.05},{"t":1300,"v":-0.0195},{"t":1313,"v":-0.0179},{"t":1323,"v":-0.0218},{"t":1335,"v":-0.0156}
    ],
    "macdBlue": [
      {"t":7,"v":0.0592},{"t":13,"v":0.0668},{"t":20,"v":0.0584},{"t":28,"v":0.0546},{"t":35,"v":0.0317},{"t":45,"v":0.005},{"t":55,"v":-0.0294},{"t":67,"v":-0.0424},{"t":75,"v":-0.034},{"t":85,"v":-0.0263},{"t":100,"v":-0.0248},{"t":110,"v":-0.0561},{"t":120,"v":-0.0866},{"t":130,"v":-0.0996},{"t":140,"v":-0.0905},{"t":150,"v":-0.0676},{"t":165,"v":-0.0294},{"t":175,"v":-0.0011},{"t":185,"v":0.0149},{"t":193,"v":0.0179},{"t":200,"v":0.0271},{"t":207,"v":0.0218},{"t":215,"v":0.0179},{"t":225,"v":0.0149},{"t":233,"v":0.0141},{"t":240,"v":0.0011},{"t":250,"v":-0.0195},{"t":260,"v":-0.037},{"t":270,"v":-0.0576},{"t":287,"v":-0.0317},{"t":300,"v":-0.037},{"t":307,"v":-0.0447},{"t":317,"v":-0.0576},{"t":320,"v":-0.0576},{"t":333,"v":-0.0294},{"t":343,"v":-0.0088},{"t":358,"v":-0.008},{"t":367,"v":-0.0195},{"t":377,"v":-0.0393},{"t":383,"v":-0.0294},{"t":393,"v":-0.0141},{"t":400,"v":-0.0195},{"t":410,"v":-0.0393},{"t":420,"v":-0.0523},{"t":433,"v":-0.0523},{"t":440,"v":-0.0576},{"t":457,"v":-0.0447},{"t":470,"v":-0.037},{"t":480,"v":-0.0164},{"t":500,"v":0.0034},{"t":510,"v":-0.0088},{"t":523,"v":-0.0393},{"t":532,"v":-0.0546},{"t":543,"v":-0.0447},{"t":550,"v":-0.0317},{"t":560,"v":-0.0271},{"t":568,"v":-0.0393},{"t":580,"v":-0.0653},{"t":593,"v":-0.0576},{"t":610,"v":-0.0218},{"t":617,"v":-0.0233},{"t":627,"v":-0.0393},{"t":643,"v":-0.0584},{"t":653,"v":-0.05},{"t":667,"v":-0.0393},{"t":680,"v":-0.0195},{"t":693,"v":-0.0141},{"t":707,"v":0.0011},{"t":718,"v":0.0187},{"t":727,"v":0.0218},{"t":737,"v":0.0126},{"t":747,"v":0.0141},{"t":757,"v":0.0218},{"t":773,"v":0.0492},{"t":783,"v":0.0531},{"t":793,"v":0.0637},{"t":800,"v":0.0637},{"t":813,"v":0.0393},{"t":827,"v":0.0531},{"t":840,"v":0.0492},{"t":853,"v":0.0294},{"t":863,"v":0.0256},{"t":880,"v":-0.005},{"t":887,"v":0.0034},{"t":900,"v":0.0416},{"t":913,"v":0.0683},{"t":923,"v":0.0637},{"t":930,"v":0.0569},{"t":947,"v":0.0302},{"t":960,"v":0.037},{"t":970,"v":0.0508},{"t":985,"v":0.0355},{"t":995,"v":0.0332},{"t":1005,"v":0.0393},{"t":1020,"v":0.0355},{"t":1030,"v":0.0332},{"t":1040,"v":0.0164},{"t":1050,"v":0.0088},{"t":1060,"v":0.0073},{"t":1070,"v":0.0164},{"t":1080,"v":0.0355},{"t":1090,"v":0.0408},{"t":1100,"v":0.0393},{"t":1105,"v":0.0469},{"t":1110,"v":0.0393},{"t":1123,"v":0.0218},{"t":1130,"v":0.0202},{"t":1135,"v":0.0225},{"t":1140,"v":0.0202},{"t":1147,"v":0.0294},{"t":1155,"v":0.0355},{"t":1160,"v":0.0317},{"t":1170,"v":0.0111},{"t":1180,"v":-0.0118},{"t":1187,"v":-0.0156},{"t":1200,"v":-0.0195},{"t":1210,"v":-0.0347},{"t":1220,"v":-0.0523},{"t":1230,"v":-0.0653},{"t":1237,"v":-0.0645},{"t":1243,"v":-0.0676},{"t":1253,"v":-0.0698},{"t":1263,"v":-0.0576},{"t":1273,"v":-0.0462},{"t":1280,"v":-0.0424},{"t":1293,"v":-0.0088},{"t":1298,"v":-0.0042},{"t":1303,"v":-0.0088},{"t":1310,"v":-0.024},{"t":1320,"v":-0.0195},{"t":1323,"v":-0.024},{"t":1330,"v":-0.0088},{"t":1335,"v":-0.005}
    ],
    "macdTags": [
      {"v": 0.00994, "lab": "0.00994", "order": 1},
      {"v": -0.00543, "lab": "-0.00543", "order": 2},
      {"v": -0.0154, "lab": "-0.0154", "order": 3}
    ],
    "credit": [{"t": 4, "v": -0.1057, "txt": "© 2012 NinjaTrader, LLC"}]
  },
  "vconcat": [
    {
      "width": 1333,
      "height": 459,
      "resolve": {"axis": {"x": "independent", "y": "independent"}},
      "layer": [
        {
          "data": {"name": "regions"},
          "mark": {"type": "rect"},
          "encoding": {
            "x": {"field": "a", "type": "quantitative", "scale": {"domain": [3, 1336], "nice": false, "zero": false}, "axis": null},
            "x2": {"field": "b"},
            "y": {"datum": 96.535, "type": "quantitative", "title": null, "scale": {"domain": [95.077, 96.558], "nice": false, "zero": false}, "axis": {"orient": "right", "values": [96.4, 96.2, 96.0, 95.8, 95.6, 95.4, 95.2], "format": ".2f", "title": null, "zindex": 0}},
            "y2": {"datum": 95.077},
            "color": {"field": "s", "type": "nominal", "scale": {"domain": ["long", "short"], "range": ["#90a58f", "#b29292"]}, "legend": null}
          }
        },
        {
          "data": {"name": "session"},
          "mark": {"type": "rule", "color": "#d0d0d0", "strokeWidth": 1},
          "encoding": {
            "x": {"field": "t", "type": "quantitative", "axis": null},
            "y": {"datum": 96.535, "type": "quantitative", "axis": null},
            "y2": {"datum": 95.077}
          }
        },
        {
          "data": {"name": "levels"},
          "transform": [{"filter": "datum.k == 'zone'"}],
          "mark": {"type": "rule", "color": "#ffff00", "strokeWidth": 1, "strokeDash": [2, 2]},
          "encoding": {"y": {"field": "p", "type": "quantitative", "axis": null}}
        },
        {
          "data": {"name": "levels"},
          "transform": [{"filter": "datum.k == 'support'"}],
          "mark": {"type": "rule", "color": "#ee1111", "strokeWidth": 2},
          "encoding": {"y": {"field": "p", "type": "quantitative", "axis": null}}
        },
        {
          "data": {"name": "slowma"},
          "mark": {"type": "line", "color": "#f2f2f2", "strokeWidth": 2, "strokeDash": [9, 3, 2, 3], "clip": true},
          "encoding": {
            "x": {"field": "t", "type": "quantitative", "axis": null},
            "y": {"field": "v", "type": "quantitative", "axis": null}
          }
        },
        {
          "data": {"name": "bars"},
          "mark": {"type": "rule", "color": "#000", "strokeWidth": 1, "clip": true},
          "encoding": {
            "x": {"field": "t", "type": "quantitative", "axis": null},
            "y": {"field": "l", "type": "quantitative", "axis": null},
            "y2": {"field": "h"}
          }
        },
        {
          "data": {"name": "bars"},
          "mark": {"type": "bar", "width": 3.6, "stroke": "#000", "strokeWidth": 0.6, "clip": true},
          "encoding": {
            "x": {"field": "t", "type": "quantitative", "axis": null},
            "y": {"field": "o", "type": "quantitative", "axis": null},
            "y2": {"field": "c"},
            "fill": {"condition": {"test": "datum.c >= datum.o", "value": "#1b1b8e"}, "value": "#c41a1a"}
          }
        },
        {
          "data": {"name": "maRed"},
          "mark": {"type": "line", "color": "#ee1c1c", "strokeWidth": 4.5, "strokeCap": "round", "clip": true},
          "encoding": {
            "x": {"field": "t", "type": "quantitative", "axis": null},
            "y": {"field": "v", "type": "quantitative", "axis": null},
            "detail": {"field": "s"}
          }
        },
        {
          "data": {"name": "maGreen"},
          "mark": {"type": "line", "color": "#36c936", "strokeWidth": 4.5, "strokeCap": "round", "clip": true},
          "encoding": {
            "x": {"field": "t", "type": "quantitative", "axis": null},
            "y": {"field": "v", "type": "quantitative", "axis": null},
            "detail": {"field": "s"}
          }
        },
        {
          "data": {"name": "pivots"},
          "transform": [{"filter": "datum.lab == 'PP'"}],
          "mark": {"type": "rule", "color": "#000", "strokeWidth": 1},
          "encoding": {
            "x": {"field": "t1", "type": "quantitative", "axis": null},
            "x2": {"field": "t2"},
            "y": {"field": "p", "type": "quantitative", "axis": null}
          }
        },
        {
          "data": {"name": "pivots"},
          "transform": [{"filter": "datum.lab == 'S1'"}],
          "mark": {"type": "rule", "color": "#e01010", "strokeWidth": 1},
          "encoding": {
            "x": {"field": "t1", "type": "quantitative", "axis": null},
            "x2": {"field": "t2"},
            "y": {"field": "p", "type": "quantitative", "axis": null}
          }
        },
        {
          "data": {"name": "pivots"},
          "transform": [{"filter": "datum.lab == 'PP'"}],
          "mark": {"type": "text", "align": "right", "baseline": "middle", "dx": -3, "fontSize": 16, "color": "#2a2a2a"},
          "encoding": {
            "x": {"field": "t1", "type": "quantitative", "axis": null},
            "y": {"field": "p", "type": "quantitative", "axis": null},
            "text": {"field": "lab"}
          }
        },
        {
          "data": {"name": "pivots"},
          "transform": [{"filter": "datum.lab == 'S1'"}],
          "mark": {"type": "text", "align": "right", "baseline": "middle", "dx": -3, "fontSize": 16, "color": "#e01010"},
          "encoding": {
            "x": {"field": "t1", "type": "quantitative", "axis": null},
            "y": {"field": "p", "type": "quantitative", "axis": null},
            "text": {"field": "lab"}
          }
        },
        {
          "data": {"name": "arrows"},
          "mark": {"type": "rule", "color": "#ffff00", "strokeWidth": 1.5},
          "encoding": {
            "x": {"field": "t", "type": "quantitative", "axis": null},
            "y": {"field": "tail", "type": "quantitative", "axis": null},
            "y2": {"field": "tip"}
          }
        },
        {
          "data": {"name": "arrows"},
          "transform": [{"filter": "datum.dir == 'up'"}],
          "mark": {"type": "point", "shape": "M0,-1L0.8,0.7L-0.8,0.7Z", "size": 256, "filled": true, "color": "#ffff00", "opacity": 1},
          "encoding": {
            "x": {"field": "t", "type": "quantitative", "axis": null},
            "y": {"field": "head", "type": "quantitative", "axis": null}
          }
        },
        {
          "data": {"name": "arrows"},
          "transform": [{"filter": "datum.dir == 'down'"}],
          "mark": {"type": "point", "shape": "M0,1L0.8,-0.7L-0.8,-0.7Z", "size": 256, "filled": true, "color": "#ffff00", "opacity": 1},
          "encoding": {
            "x": {"field": "t", "type": "quantitative", "axis": null},
            "y": {"field": "head", "type": "quantitative", "axis": null}
          }
        },
        {
          "data": {"name": "notes"},
          "mark": {"type": "text", "color": "#ffffff", "fontWeight": "bold", "fontSize": 14, "align": "center", "baseline": "top", "lineBreak": "\n", "lineHeight": 17},
          "encoding": {
            "x": {"field": "t", "type": "quantitative", "axis": null},
            "y": {"field": "p", "type": "quantitative", "axis": null},
            "text": {"field": "txt"}
          }
        },
        {
          "data": {"name": "misc"},
          "mark": {"type": "text", "color": "#111", "fontSize": 15.5, "align": "left", "baseline": "middle"},
          "encoding": {
            "x": {"field": "t", "type": "quantitative", "axis": null},
            "y": {"field": "p", "type": "quantitative", "axis": null},
            "text": {"field": "txt"}
          }
        },
        {
          "data": {"name": "icons"},
          "transform": [{"filter": "datum.kind == 'end'"}],
          "mark": {"type": "point", "shape": "M-1.05,-1L0.35,0L-1.05,1Z M0.55,-1L1.05,-1L1.05,1L0.55,1Z", "size": 400, "filled": true, "color": "#000", "opacity": 1},
          "encoding": {
            "x": {"field": "t", "type": "quantitative", "axis": null},
            "y": {"field": "p", "type": "quantitative", "axis": null}
          }
        },
        {
          "data": {"name": "icons"},
          "transform": [{"filter": "datum.kind == 'F'"}],
          "mark": {"type": "point", "shape": "square", "size": 324, "filled": false, "stroke": "#000", "strokeWidth": 1, "opacity": 1},
          "encoding": {
            "x": {"field": "t", "type": "quantitative", "axis": null},
            "y": {"field": "p", "type": "quantitative", "axis": null}
          }
        },
        {
          "data": {"name": "icons"},
          "transform": [{"filter": "datum.kind == 'F'"}],
          "mark": {"type": "text", "fontSize": 14, "color": "#000", "align": "center", "baseline": "middle"},
          "encoding": {
            "x": {"field": "t", "type": "quantitative", "axis": null},
            "y": {"field": "p", "type": "quantitative", "axis": null},
            "text": {"field": "kind"}
          }
        },
        {
          "data": {"name": "priceTags"},
          "transform": [{"filter": "datum.order == 1"}],
          "mark": {"type": "point", "shape": "M-1,0L-0.59,-0.333L1,-0.333L1,0.333L-0.59,0.333Z", "size": 2916, "filled": true, "fill": "#c9c6b7", "stroke": "#000", "strokeWidth": 1, "opacity": 1},
          "encoding": {
            "x": {"datum": 1364, "type": "quantitative", "axis": null},
            "y": {"field": "p", "type": "quantitative", "axis": null}
          }
        },
        {
          "data": {"name": "priceTags"},
          "transform": [{"filter": "datum.order == 1"}],
          "mark": {"type": "text", "fontSize": 15.5, "color": "#111", "align": "left", "baseline": "middle"},
          "encoding": {
            "x": {"datum": 1348, "type": "quantitative", "axis": null},
            "y": {"field": "p", "type": "quantitative", "axis": null},
            "text": {"field": "lab"}
          }
        },
        {
          "data": {"name": "priceTags"},
          "transform": [{"filter": "datum.order == 2"}],
          "mark": {"type": "point", "shape": "M-1,0L-0.59,-0.333L1,-0.333L1,0.333L-0.59,0.333Z", "size": 2916, "filled": true, "fill": "#c9c6b7", "stroke": "#000", "strokeWidth": 1, "opacity": 1},
          "encoding": {
            "x": {"datum": 1364, "type": "quantitative", "axis": null},
            "y": {"field": "p", "type": "quantitative", "axis": null}
          }
        },
        {
          "data": {"name": "priceTags"},
          "transform": [{"filter": "datum.order == 2"}],
          "mark": {"type": "text", "fontSize": 15.5, "color": "#111", "align": "left", "baseline": "middle"},
          "encoding": {
            "x": {"datum": 1348, "type": "quantitative", "axis": null},
            "y": {"field": "p", "type": "quantitative", "axis": null},
            "text": {"field": "lab"}
          }
        }
      ]
    },
    {
      "width": 1333,
      "height": 44,
      "resolve": {"axis": {"x": "independent", "y": "independent"}},
      "layer": [
        {
          "data": {"name": "osc"},
          "mark": {"type": "line", "color": "#ffffff", "strokeWidth": 1},
          "encoding": {
            "x": {"field": "t", "type": "quantitative", "scale": {"domain": [3, 1336], "nice": false, "zero": false}, "axis": null},
            "y": {"field": "v", "type": "quantitative", "scale": {"domain": [-0.266, 1.256], "nice": false, "zero": false}, "axis": {"orient": "right", "values": [0], "title": null, "zindex": 0}}
          }
        },
        {
          "data": {"name": "session"},
          "mark": {"type": "rule", "color": "#d0d0d0", "strokeWidth": 1},
          "encoding": {"x": {"field": "t", "type": "quantitative", "axis": null}}
        },
        {
          "data": {"name": "oscLevels"},
          "transform": [{"filter": "datum.k == 'red'"}],
          "mark": {"type": "rule", "color": "#e01010", "strokeWidth": 1.5},
          "encoding": {"y": {"field": "v", "type": "quantitative", "axis": null}}
        },
        {
          "data": {"name": "oscLevels"},
          "transform": [{"filter": "datum.k == 'blue'"}],
          "mark": {"type": "rule", "color": "#1010c8", "strokeWidth": 1.5},
          "encoding": {"y": {"field": "v", "type": "quantitative", "axis": null}}
        },
        {
          "data": {"name": "oscTag"},
          "mark": {"type": "point", "shape": "M-1,0L-0.59,-0.333L1,-0.333L1,0.333L-0.59,0.333Z", "size": 2916, "filled": true, "fill": "#c9c6b7", "stroke": "#000", "strokeWidth": 1, "opacity": 1},
          "encoding": {
            "x": {"datum": 1364, "type": "quantitative", "axis": null},
            "y": {"field": "v", "type": "quantitative", "axis": null}
          }
        },
        {
          "data": {"name": "oscTag"},
          "mark": {"type": "text", "fontSize": 15.5, "color": "#111", "align": "left", "baseline": "middle"},
          "encoding": {
            "x": {"datum": 1348, "type": "quantitative", "axis": null},
            "y": {"field": "v", "type": "quantitative", "axis": null},
            "text": {"field": "lab"}
          }
        }
      ]
    },
    {
      "width": 1333,
      "height": 254,
      "resolve": {"axis": {"x": "independent", "y": "independent"}},
      "layer": [
        {
          "data": {"name": "hist"},
          "mark": {"type": "area", "color": "#eef6fd", "opacity": 1},
          "encoding": {
            "x": {"field": "t", "type": "quantitative", "scale": {"domain": [3, 1336], "nice": false, "zero": false}, "axis": {"orient": "bottom", "title": null, "labelPadding": 5, "values": [7, 77, 103, 176, 244, 313, 382, 452, 520, 589, 658, 727, 797, 866, 934, 1003, 1072, 1141, 1210, 1279], "labelExpr": "datum.value == 103 ? '8/20' : datum.value == 176 ? '08:17' : datum.value == 244 ? '08:35' : datum.value == 313 ? '08:42' : datum.value == 382 ? '08:51' : datum.value == 452 ? '08:58' : datum.value == 520 ? '09:07' : datum.value == 589 ? '09:14' : datum.value == 658 ? '09:24' : datum.value == 727 ? '09:39' : datum.value == 797 ? '09:50' : datum.value == 866 ? '10:07' : datum.value == 934 ? '10:18' : datum.value == 1003 ? '10:26' : datum.value == 1072 ? '10:43' : datum.value == 1141 ? '11:10' : datum.value == 1210 ? '11:31' : datum.value == 1279 ? '11:44' : ''", "labelFlush": false, "labelOverlap": false}},
            "y": {"field": "v", "type": "quantitative", "scale": {"domain": [-0.1095, 0.0844], "nice": false, "zero": false}, "axis": {"orient": "right", "values": [0.05, -0.05, -0.1], "labelExpr": "'' + datum.value", "title": null, "zindex": 0}},
            "y2": {"datum": 0}
          }
        },
        {
          "data": {"name": "session"},
          "mark": {"type": "rule", "color": "#d0d0d0", "strokeWidth": 1},
          "encoding": {"x": {"field": "t", "type": "quantitative", "axis": {"orient": "bottom", "title": null, "values": [7], "labelExpr": "':14'", "labelAlign": "left", "labelPadding": 10, "labelFlush": false, "ticks": false, "domain": false}}}
        },
        {
          "data": {"name": "macdTags"},
          "transform": [{"filter": "datum.order == 1"}],
          "mark": {"type": "rule", "color": "#000", "strokeWidth": 1.5},
          "encoding": {"y": {"datum": 0, "type": "quantitative", "axis": null}}
        },
        {
          "data": {"name": "macdRed"},
          "mark": {"type": "line", "color": "#e01414", "strokeWidth": 2},
          "encoding": {
            "x": {"field": "t", "type": "quantitative", "axis": null},
            "y": {"field": "v", "type": "quantitative", "axis": null}
          }
        },
        {
          "data": {"name": "macdBlue"},
          "mark": {"type": "line", "color": "#1414dc", "strokeWidth": 2.5},
          "encoding": {
            "x": {"field": "t", "type": "quantitative", "axis": null},
            "y": {"field": "v", "type": "quantitative", "axis": null}
          }
        },
        {
          "data": {"name": "credit"},
          "mark": {"type": "text", "fontSize": 11, "color": "#000", "align": "left", "baseline": "middle"},
          "encoding": {
            "x": {"field": "t", "type": "quantitative", "axis": null},
            "y": {"field": "v", "type": "quantitative", "axis": null},
            "text": {"field": "txt"}
          }
        },
        {
          "data": {"name": "macdTags"},
          "transform": [{"filter": "datum.order == 1"}],
          "mark": {"type": "point", "shape": "M-1,0L-0.7,-0.247L1,-0.247L1,0.247L-0.7,0.247Z", "size": 5329, "filled": true, "fill": "#c9c6b7", "stroke": "#000", "strokeWidth": 1, "opacity": 1},
          "encoding": {"x": {"datum": 1373.5, "type": "quantitative", "axis": null}, "y": {"field": "v", "type": "quantitative", "axis": null}}
        },
        {
          "data": {"name": "macdTags"},
          "transform": [{"filter": "datum.order == 1"}],
          "mark": {"type": "text", "fontSize": 15.5, "color": "#111", "align": "left", "baseline": "middle"},
          "encoding": {"x": {"datum": 1348, "type": "quantitative", "axis": null}, "y": {"field": "v", "type": "quantitative", "axis": null}, "text": {"field": "lab"}}
        },
        {
          "data": {"name": "macdTags"},
          "transform": [{"filter": "datum.order == 2"}],
          "mark": {"type": "point", "shape": "M-1,0L-0.7,-0.247L1,-0.247L1,0.247L-0.7,0.247Z", "size": 5329, "filled": true, "fill": "#c9c6b7", "stroke": "#000", "strokeWidth": 1, "opacity": 1},
          "encoding": {"x": {"datum": 1373.5, "type": "quantitative", "axis": null}, "y": {"field": "v", "type": "quantitative", "axis": null}}
        },
        {
          "data": {"name": "macdTags"},
          "transform": [{"filter": "datum.order == 2"}],
          "mark": {"type": "text", "fontSize": 15.5, "color": "#111", "align": "left", "baseline": "middle"},
          "encoding": {"x": {"datum": 1348, "type": "quantitative", "axis": null}, "y": {"field": "v", "type": "quantitative", "axis": null}, "text": {"field": "lab"}}
        },
        {
          "data": {"name": "macdTags"},
          "transform": [{"filter": "datum.order == 3"}],
          "mark": {"type": "point", "shape": "M-1,0L-0.7,-0.247L1,-0.247L1,0.247L-0.7,0.247Z", "size": 4761, "filled": true, "fill": "#c9c6b7", "stroke": "#000", "strokeWidth": 1, "opacity": 1},
          "encoding": {"x": {"datum": 1371.5, "type": "quantitative", "axis": null}, "y": {"field": "v", "type": "quantitative", "axis": null}}
        },
        {
          "data": {"name": "macdTags"},
          "transform": [{"filter": "datum.order == 3"}],
          "mark": {"type": "text", "fontSize": 15.5, "color": "#111", "align": "left", "baseline": "middle"},
          "encoding": {"x": {"datum": 1348, "type": "quantitative", "axis": null}, "y": {"field": "v", "type": "quantitative", "axis": null}, "text": {"field": "lab"}}
        }
      ]
    }
  ]
}
